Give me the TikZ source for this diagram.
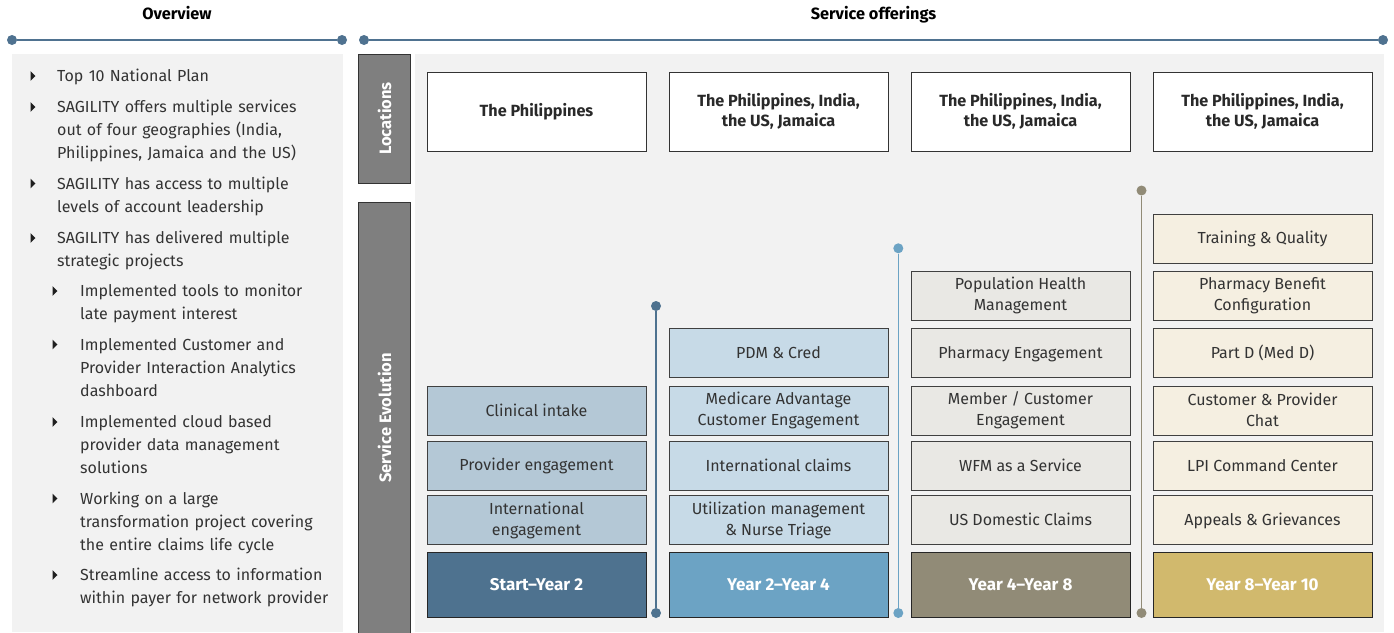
\documentclass[tikz,border=0pt]{standalone}
\usepackage{fontspec}
\setmainfont{Fira Sans}
\definecolor{panel}{HTML}{F2F2F2}
\definecolor{hline}{HTML}{4F7290}
\definecolor{txt}{HTML}{333333}
\definecolor{boxline}{HTML}{404040}
\definecolor{barfill}{HTML}{7F7F7F}
\definecolor{barline}{HTML}{333333}
\definecolor{c1}{HTML}{B4C8D6}
\definecolor{c2}{HTML}{C7DAE7}
\definecolor{c3}{HTML}{E9E8E4}
\definecolor{c4}{HTML}{F5EFE1}
\definecolor{y1}{HTML}{4E728F}
\definecolor{y2}{HTML}{6CA3C4}
\definecolor{y3}{HTML}{918B77}
\definecolor{y4}{HTML}{D1B96D}
\newcommand\btri[2]{\fill[txt!60!black] (#1,#2) ++(0,-4.8) -- ++(5,4.8) -- ++(-5,4.8) -- cycle;}
\newcommand\topstrut{\rule[-2pt]{0pt}{15.5pt}}
\newcommand\botstrut{\rule[-2pt]{0pt}{2pt}}
\begin{document}
\begin{tikzpicture}[x=1pt,y=-1pt,
  head/.style={anchor=base, font=\bfseries\fontsize{16.3}{18}\selectfont, text=black, inner sep=0pt},
  hdot/.style={circle, fill=hline, minimum size=10pt, inner sep=0pt},
  hrule/.style={draw=hline, line width=1.3pt},
  tdot/.style={circle, minimum size=10pt, inner sep=0pt},
  tline/.style={line width=1.6pt},
  vbar/.style={draw=barline, line width=1pt, fill=barfill, rotate=90, inner sep=0pt,
     text=white, font=\bfseries\fontsize{16.5}{18}\selectfont},
  lvlone/.style={anchor=base west, inner sep=0pt, text width=285pt, align=left,
     text=txt, font=\fontsize{16}{23}\selectfont},
  lvltwo/.style={lvlone, text width=262pt},
  struts/.style={execute at begin node=\topstrut, execute at end node=\botstrut},
  locbox/.style={struts, draw=barline, line width=0.9pt, fill=white, minimum width=219pt,
     minimum height=79pt, inner sep=0pt, align=center, text=txt!80!black,
     font=\bfseries\fontsize{16.2}{20}\selectfont},
  svc/.style={struts, draw=boxline, line width=0.9pt, minimum width=219pt, minimum height=49pt,
     inner sep=0pt, align=center, text=txt, font=\fontsize{16}{21}\selectfont},
  yr/.style={struts, draw=black!85, line width=1pt, minimum width=219pt, minimum height=65pt,
     inner sep=0pt, align=center, text=white, font=\bfseries\fontsize{17}{21}\selectfont}
]
\useasboundingbox (0,0) rectangle (1394,632);

% panels
\fill[panel] (12,54) rectangle (343,632);
\fill[panel] (415,54) rectangle (1384,632);

% headers
\node[head] (ovt) at (177,19) {Overview};
\node[head] (sot) at (873.5,19) {Service offerings};
\node[hdot] (ol) at (12,40) {};
\node[hdot] (or) at (342,40) {};
\draw[hrule] (ol) -- (or);
\node[hdot] (sl) at (364,40) {};
\node[hdot] (sr) at (1383,40) {};
\draw[hrule] (sl) -- (sr);

% side bars
\node[vbar, minimum width=129pt, minimum height=52pt] (locbar) at (384.5,118.5) {Locations};
\node[vbar, minimum width=432pt, minimum height=52pt] (evobar) at (384.5,418) {Service Evolution};

% overview bullets
\btri{30.5}{76}
\node[lvlone] (p1) at (57,81.5) {Top 10 National Plan};
\btri{30.5}{107}
\node[lvlone] (p2) at (57,112.5) {SAGILITY offers multiple services\\out of four geographies (India,\\Philippines, Jamaica and the US)};
\btri{30.5}{183.5}
\node[lvlone] (p3) at (57,189) {SAGILITY has access to multiple\\levels of account leadership};
\btri{30.5}{238}
\node[lvlone] (p4) at (57,243.5) {SAGILITY has delivered multiple\\strategic projects};
\btri{52.5}{291}
\node[lvltwo] (q1) at (80,296.5) {Implemented tools to monitor\\late payment interest};
\btri{52.5}{344.5}
\node[lvltwo] (q2) at (80,350) {Implemented Customer and\\Provider Interaction Analytics\\dashboard};
\btri{52.5}{422}
\node[lvltwo] (q3) at (80,427.5) {Implemented cloud based\\provider data management\\solutions};
\btri{52.5}{498.5}
\node[lvltwo] (q4) at (80,504) {Working on a large\\transformation project covering\\the entire claims life cycle};
\btri{52.5}{575}
\node[lvltwo] (q5) at (80,580.5) {Streamline access to information\\within payer for network provider};

% locations
\node[locbox] (l1) at (536.5,111.5) {The Philippines};
\node[locbox] (l2) at (778.5,111.5) {The Philippines, India,\\the US, Jamaica};
\node[locbox] (l3) at (1020.5,111.5) {The Philippines, India,\\the US, Jamaica};
\node[locbox] (l4) at (1262.5,111.5) {The Philippines, India,\\the US, Jamaica};

% column 1
\node[svc, fill=c1] (a1) at (536.5,520) {International\\engagement};
\node[svc, fill=c1] (a2) at (536.5,465.5) {Provider engagement};
\node[svc, fill=c1] (a3) at (536.5,410.5) {Clinical intake};
\node[yr, fill=y1] (ya) at (536.5,584.5) {Start–Year 2};

% column 2
\node[svc, fill=c2] (b1) at (778.5,520) {Utilization management\\\& Nurse Triage};
\node[svc, fill=c2] (b2) at (778.5,465.5) {International claims};
\node[svc, fill=c2] (b3) at (778.5,410.5) {Medicare Advantage\\Customer Engagement};
\node[svc, fill=c2] (b4) at (778.5,353) {PDM \& Cred};
\node[yr, fill=y2] (yb) at (778.5,584.5) {Year 2–Year 4};

% column 3
\node[svc, fill=c3] (c1n) at (1020.5,520) {US Domestic Claims};
\node[svc, fill=c3] (c2n) at (1020.5,465.5) {WFM as a Service};
\node[svc, fill=c3] (c3n) at (1020.5,410.5) {Member / Customer\\Engagement};
\node[svc, fill=c3] (c4n) at (1020.5,353) {Pharmacy Engagement};
\node[svc, fill=c3] (c5n) at (1020.5,295.5) {Population Health\\Management};
\node[yr, fill=y3] (yc) at (1020.5,584.5) {Year 4–Year 8};

% column 4
\node[svc, fill=c4] (d1) at (1262.5,520) {Appeals \& Grievances};
\node[svc, fill=c4] (d2) at (1262.5,465.5) {LPI Command Center};
\node[svc, fill=c4] (d3) at (1262.5,410.5) {Customer \& Provider\\Chat};
\node[svc, fill=c4] (d4) at (1262.5,353) {Part D (Med D)};
\node[svc, fill=c4] (d5) at (1262.5,295.5) {Pharmacy Benefit\\Configuration};
\node[svc, fill=c4] (d6) at (1262.5,238.5) {Training \& Quality};
\node[yr, fill=y4] (yd) at (1262.5,584.5) {Year 8–Year 10};

% timelines
\node[tdot, fill=y1] (t1a) at (656,306) {};
\node[tdot, fill=y1] (t1b) at (656,613) {};
\draw[tline, draw=y1] (t1a) -- (t1b);
\node[tdot, fill=y2] (t2a) at (898.3,248.3) {};
\node[tdot, fill=y2] (t2b) at (898.3,613) {};
\draw[tline, draw=y2] (t2a) -- (t2b);
\node[tdot, fill=y3] (t3a) at (1141.5,190.5) {};
\node[tdot, fill=y3] (t3b) at (1141.5,613) {};
\draw[tline, draw=y3] (t3a) -- (t3b);
\end{tikzpicture}
\end{document}
